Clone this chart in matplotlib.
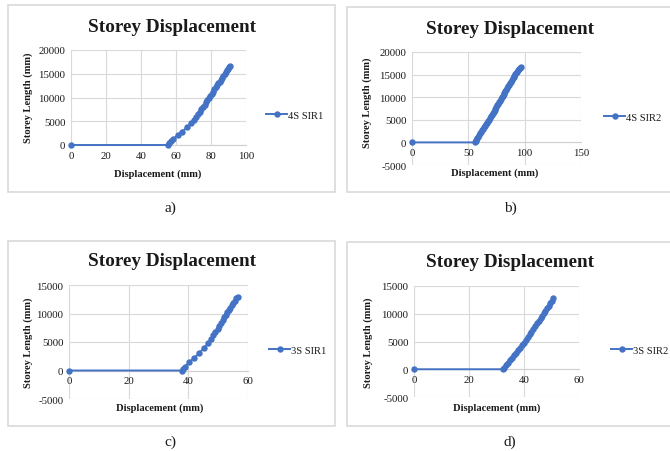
import matplotlib
matplotlib.use("Agg")
import matplotlib.pyplot as plt
from matplotlib.patches import Rectangle

plt.rcParams['font.family'] = ['Liberation Serif', 'DejaVu Serif']
plt.rcParams['axes.unicode_minus'] = False

W, H = 670, 452

# ---- data ----
a_x = [0, 55.2, 56.0, 57.0, 58.4, 61.0, 63.6, 66.1, 68.6, 70.2, 71.4, 72.5, 73.5, 74.5, 75.4,
       76.3, 77.2, 78.0, 78.8, 79.6, 80.4, 81.2, 82.0, 82.8, 83.5, 84.2, 85.0, 85.7, 86.4,
       87.1, 87.8, 88.5, 89.2, 89.9, 90.5, 91.1]
a_y = [0, 0, 400, 800, 1300, 2100, 2800, 3700, 4600, 5300, 5900, 6500, 7000, 7500, 8000,
       8500, 9000, 9450, 9900, 10350, 10800, 11250, 11700, 12150, 12550, 12950, 13350, 13750,
       14150, 14550, 14950, 15350, 15750, 16100, 16400, 16700]

b_x = [0, 56, 56.5, 57.2, 58, 58.9, 59.8, 60.7, 61.6, 62.5, 63.3, 64.2, 65.1, 66.0, 66.9,
       67.7, 68.5, 69.3, 70.1, 70.9, 71.7, 72.5, 73.3, 74.1, 74.9, 75.7, 76.5, 77.3, 78.1,
       78.9, 79.7, 80.5, 81.3, 82.1, 82.9, 83.7, 84.5, 85.3, 86.1, 86.9, 87.7, 88.5, 89.3,
       90.1, 90.9, 91.7, 92.5, 93.3, 94.1, 94.9, 95.7, 96.4]
b_y = [0, 0, 250, 550, 900, 1300, 1650, 2000, 2350, 2700, 3000, 3350, 3700, 4050, 4400,
       4700, 5050, 5400, 5750, 6100, 6450, 6800, 7150, 7500, 7850, 8200, 8550, 8900, 9250,
       9600, 9950, 10300, 10650, 11000, 11350, 11700, 12050, 12400, 12750, 13100, 13450,
       13800, 14150, 14450, 14750, 15050, 15350, 15650, 15950, 16200, 16450, 16650]

c_x = [0, 37.8, 38.3, 38.9, 40.3, 41.9, 43.6, 45.1, 46.6, 47.6, 48.4, 49.1, 49.8, 50.4,
       51.0, 51.6, 52.1, 52.6, 53.1, 53.6, 54.1, 54.6, 55.1, 55.6, 56.1, 56.5]
c_y = [0, 0, 300, 700, 1450, 2200, 3000, 3900, 4750, 5500, 6150, 6750, 7300, 7850, 8350,
       8850, 9300, 9750, 10200, 10650, 11050, 11450, 11850, 12250, 12650, 12950]

d_x = [0, 32.4, 32.8, 33.4, 34.1, 34.8, 35.5, 36.3, 37.1, 37.8, 38.5, 39.2, 39.9, 40.6,
       41.3, 42.0, 42.7, 43.4, 44.1, 44.8, 45.4, 46.0, 46.6, 47.2, 47.8, 48.4, 49.0, 49.6,
       50.2, 50.7]
d_y = [0, 0, 300, 700, 1200, 1650, 2100, 2550, 3000, 3450, 3900, 4350, 4800, 5300, 5800,
       6300, 6800, 7300, 7800, 8300, 8750, 9200, 9650, 10100, 10550, 11000, 11450, 11900,
       12350, 12800]

series_names = ["4S SIR1", "4S SIR2", "3S SIR1", "3S SIR2"]
captions = ["a)", "b)", "c)", "d)"]
title_text = "Storey Displacement"
xlabel_text = "Displacement (mm)"
ylabel_text = "Storey Length (mm)"

a_xticks = [0, 20, 40, 60, 80, 100]
a_yticks = [0, 5000, 10000, 15000, 20000]
b_xticks = [0, 50, 100, 150]
b_yticks = [-5000, 0, 5000, 10000, 15000, 20000]
c_xticks = [0, 20, 40, 60]
c_yticks = [-5000, 0, 5000, 10000, 15000]
d_xticks = [0, 20, 40, 60]
d_yticks = [-5000, 0, 5000, 10000, 15000]

BLUE = '#4472C4'
GRID = '#d9d9d9'
BORDER = '#d9d9d9'
TXT = '#1a1a1a'

fig = plt.figure(figsize=(W / 100, H / 100), dpi=100)
fig.patch.set_facecolor('white')


def px_rect(x0, y0, x1, y1):
    return [x0 / W, 1 - y1 / H, (x1 - x0) / W, (y1 - y0) / H]


panels = [
    dict(x=a_x, y=a_y, xt=a_xticks, yt=a_yticks, box=(8, 6, 335, 193), ax=(71, 51, 246, 146),
         title=(172, 27), xl=(158, 174), yl=(28, 98), leg=(266, 116), cap=(170, 208)),
    dict(x=b_x, y=b_y, xt=b_xticks, yt=b_yticks, box=(347, 8, 672, 193), ax=(412, 53, 581, 166),
         title=(510, 29), xl=(495, 173), yl=(367, 103), leg=(604, 118), cap=(510, 208)),
    dict(x=c_x, y=c_y, xt=c_xticks, yt=c_yticks, box=(8, 242, 335, 427), ax=(69, 286, 248, 400),
         title=(172, 262), xl=(160, 408), yl=(28, 343), leg=(269, 351), cap=(170, 442)),
    dict(x=d_x, y=d_y, xt=d_xticks, yt=d_yticks, box=(347, 243, 672, 427), ax=(414, 287, 579, 398),
         title=(510, 263), xl=(497, 408), yl=(368, 343), leg=(611, 351), cap=(510, 442)),
]

for i, p in enumerate(panels):
    bx0, by0, bx1, by1 = p['box']
    fig.add_artist(Rectangle((bx0 / W, 1 - by1 / H), (bx1 - bx0) / W, (by1 - by0) / H,
                             transform=fig.transFigure, facecolor='white',
                             edgecolor=BORDER, linewidth=1.2, zorder=0))
    ax = fig.add_axes(px_rect(*p['ax']))
    ax.set_facecolor('none')
    line, = ax.plot(p['x'], p['y'], color=BLUE, linewidth=1.4, marker='o',
                    markersize=4.6, markeredgewidth=0, label=series_names[i], zorder=3,
                    clip_on=False)
    ax.set_xlim(p['xt'][0], p['xt'][-1])
    ax.set_ylim(p['yt'][0], p['yt'][-1])
    ax.set_xticks(p['xt'])
    ax.set_yticks(p['yt'])
    ax.grid(True, color=GRID, linewidth=0.8)
    ax.set_axisbelow(True)
    for s in ['top', 'right', 'left']:
        ax.spines[s].set_visible(False)
    ax.spines['bottom'].set_position(('data', 0))
    ax.spines['bottom'].set_color('#d0d0d0')
    ax.spines['bottom'].set_linewidth(0.8)
    ax.tick_params(length=0, labelsize=7.8, colors=TXT, pad=4)
    for lab in ax.get_xticklabels() + ax.get_yticklabels():
        lab.set_clip_on(False)

    fig.text(p['title'][0] / W, 1 - p['title'][1] / H, title_text, ha='center', va='center',
             fontsize=13.8, fontweight='bold', color=TXT)
    fig.text(p['xl'][0] / W, 1 - p['xl'][1] / H, xlabel_text, ha='center', va='center',
             fontsize=7.6, fontweight='bold', color=TXT)
    fig.text(p['yl'][0] / W, 1 - p['yl'][1] / H, ylabel_text, ha='center', va='center',
             fontsize=7.6, fontweight='bold', color=TXT, rotation=90)
    fig.text(p['cap'][0] / W, 1 - p['cap'][1] / H, captions[i], ha='center', va='center',
             fontsize=11, color=TXT)
    ax.legend(handles=[line], loc='center left',
              bbox_to_anchor=(p['leg'][0] / W, 1 - p['leg'][1] / H),
              bbox_transform=fig.transFigure, frameon=False, fontsize=7.6,
              handlelength=2.0, handletextpad=0.1, borderpad=0, borderaxespad=0,
              labelcolor=TXT)

fig.savefig('out.png', dpi=100, facecolor='white')
